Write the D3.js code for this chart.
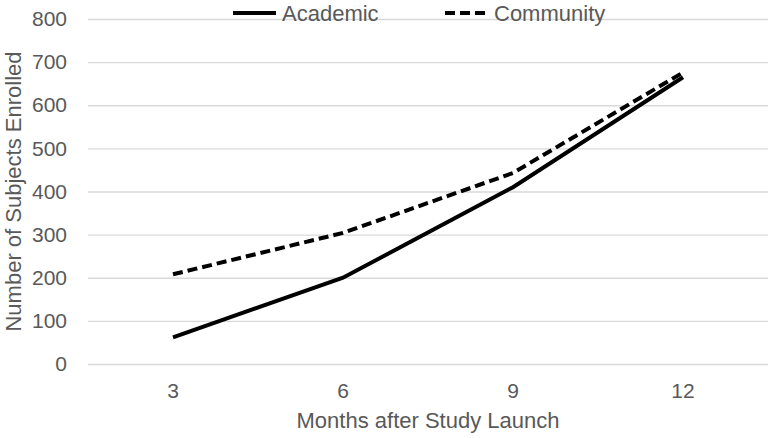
<!DOCTYPE html>
<html>
<head>
<meta charset="utf-8">
<script src="https://cdn.jsdelivr.net/npm/d3@7"></script>
<style>
  body { margin: 0; background: #fff; }
  text { font-family: "Liberation Sans", Arial, sans-serif; fill: #595959; }
</style>
</head>
<body>
<svg id="chart" width="772" height="438"></svg>
<script>
const months = ["3", "6", "9", "12"];
const academic = [62, 200, 410, 665];
const community = [208, 304, 443, 676];
const yTicks = [0, 100, 200, 300, 400, 500, 600, 700, 800];

const svg = d3.select("#chart"),
    margin = {top: 19, right: 4, bottom: 74, left: 88},
    width = 772 - margin.left - margin.right,
    height = 438 - margin.top - margin.bottom,
    g = svg.append("g").attr("transform", "translate(" + margin.left + "," + margin.top + ")");

const x = d3.scaleBand().domain(months).range([0, width]);
const y = d3.scaleLinear().domain([0, 800]).range([height, 0]);

// gridlines
g.append("g")
  .call(d3.axisLeft(y).tickValues(yTicks).tickSize(-width).tickFormat(""))
  .call(s => s.select(".domain").remove())
  .selectAll("line").attr("stroke", "#d9d9d9").attr("stroke-width", 1.3);

// y tick labels
g.append("g")
  .call(d3.axisLeft(y).tickValues(yTicks).tickSize(0).tickPadding(21))
  .call(s => s.select(".domain").remove())
  .selectAll("text").style("font-size", "21px").attr("fill", "#595959");

// x tick labels
g.append("g")
  .attr("transform", "translate(0," + height + ")")
  .call(d3.axisBottom(x).tickSize(0).tickPadding(19))
  .call(s => s.select(".domain").remove())
  .selectAll("text").style("font-size", "21px").attr("fill", "#595959");

const line = d3.line()
  .x((d, i) => x(months[i]) + x.bandwidth() / 2)
  .y(d => y(d));

g.append("path").datum(academic)
  .attr("fill", "none").attr("stroke", "#000").attr("stroke-width", 4)
  .attr("d", line);

g.append("path").datum(community)
  .attr("fill", "none").attr("stroke", "#000").attr("stroke-width", 4)
  .attr("stroke-dasharray", "10,5")
  .attr("d", line);

// axis titles
svg.append("text")
  .attr("x", 428).attr("y", 428)
  .attr("text-anchor", "middle").style("font-size", "22px")
  .text("Months after Study Launch");

svg.append("text")
  .attr("transform", "translate(21," + (margin.top + height / 2) + ") rotate(-90)")
  .attr("text-anchor", "middle").style("font-size", "22px")
  .text("Number of Subjects Enrolled");

// legend
const legend = svg.append("g").attr("class", "legend");
const items = [
  {name: "Academic", dash: null, x: 233},
  {name: "Community", dash: "10,5", x: 445}
];
items.forEach(it => {
  legend.append("line")
    .attr("x1", it.x).attr("x2", it.x + 43).attr("y1", 13).attr("y2", 13)
    .attr("stroke", "#000").attr("stroke-width", 4)
    .attr("stroke-dasharray", it.dash);
  legend.append("text")
    .attr("x", it.x + 49).attr("y", 21)
    .style("font-size", "22px")
    .text(it.name);
});
</script>
</body>
</html>
